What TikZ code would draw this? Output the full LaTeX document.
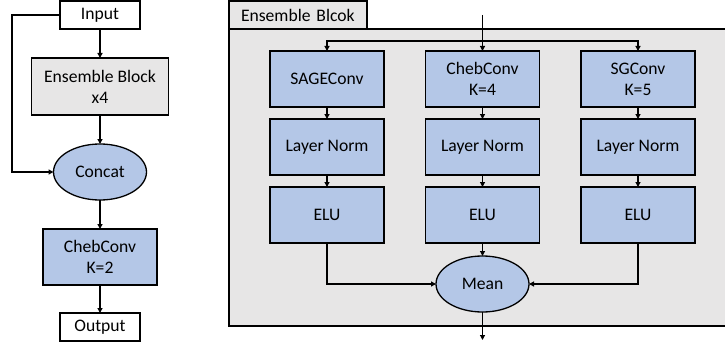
\documentclass[tikz,border=0pt]{standalone}
\usepackage{fontspec}
\setmainfont{Carlito}
\usetikzlibrary{positioning,arrows.meta,shapes.geometric}

\definecolor{blkblue}{HTML}{B4C7E7}
\definecolor{blkgray}{HTML}{E7E6E6}

\tikzset{
  box/.style={draw, line width=1.3pt, align=center, inner sep=0pt, outer sep=0pt},
  iobox/.style={box, fill=white, minimum width=80pt, minimum height=28pt},
  graybox/.style={box, fill=blkgray, minimum width=137pt, minimum height=57pt},
  bluebox/.style={box, fill=blkblue, minimum width=114pt, minimum height=56pt},
  oval/.style={box, ellipse, fill=blkblue, minimum width=93pt, minimum height=56pt},
  arr/.style={line width=1.2pt, -{Triangle[length=5pt,width=5pt]}},
}

\begin{document}
\begin{tikzpicture}[x=1pt,y=-1pt,font=\fontsize{17.6}{21}\selectfont]

  \useasboundingbox (0,-1) rectangle (725,344);

  % left: whole model
  \node[iobox] (input) at (100,14) {Input};
  \node[graybox] (ens) [below=29pt of input] {Ensemble Block\\x4};
  \node[oval] (concat) [below=29pt of ens] {Concat};
  \node[bluebox] (cheb2) [below=29pt of concat] {ChebConv\\K=2};
  \node[iobox] (output) [below=28pt of cheb2] {Output};

  \node[coordinate] (skip) at (12,14) {};

  \draw[arr] (input) -- (ens);
  \draw[arr] (ens) -- (concat);
  \draw[arr] (concat) -- (cheb2);
  \draw[arr] (cheb2) -- (output);
  \draw[arr] (input.west) -- (skip) |- (concat.west);

  % right: one ensemble block
  \path[draw, fill=blkgray, line width=1.3pt] (229,28) rectangle (740,325);
  \node[box, fill=blkgray, anchor=north west, text width=114pt, align=left,
        inner xsep=12pt, minimum height=28pt] (tab) at (229,0) {Ensemble Blcok};

  \node[bluebox] (sage) at (327,78) {SAGEConv};
  \node[bluebox] (cheb4) [right=41.5pt of sage] {ChebConv\\K=4};
  \node[bluebox] (sg) [right=41.5pt of cheb4] {SGConv\\K=5};

  \node[bluebox] (norm1) [below=12pt of sage] {Layer Norm};
  \node[bluebox] (norm2) [below=12pt of cheb4] {Layer Norm};
  \node[bluebox] (norm3) [below=12pt of sg] {Layer Norm};

  \node[bluebox] (elu1) [below=12pt of norm1] {ELU};
  \node[bluebox] (elu2) [below=12pt of norm2] {ELU};
  \node[bluebox] (elu3) [below=12pt of norm3] {ELU};

  \node[oval] (mean) [below=13pt of elu2] {Mean};

  \node[coordinate] (top) [above=36pt of cheb4.north] {};
  \node[coordinate] (split) [above=10pt of cheb4.north] {};
  \node[coordinate] (out) [below=28pt of mean.south] {};

  \draw[arr] (top) -- (cheb4);
  \draw[arr] (split) -| (sage.north);
  \draw[arr] (split) -| (sg.north);

  \draw[arr] (sage) -- (norm1);
  \draw[arr] (cheb4) -- (norm2);
  \draw[arr] (sg) -- (norm3);
  \draw[arr] (norm1) -- (elu1);
  \draw[arr] (norm2) -- (elu2);
  \draw[arr] (norm3) -- (elu3);

  \draw[arr] (elu1.south) |- (mean.west);
  \draw[arr] (elu2) -- (mean);
  \draw[arr] (elu3.south) |- (mean.east);
  \draw[arr] (mean) -- (out);

\end{tikzpicture}
\end{document}
